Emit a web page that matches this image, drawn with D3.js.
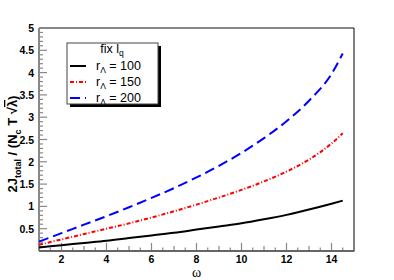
<!DOCTYPE html>
<html>
<head>
<meta charset="utf-8">
<script src="https://cdn.jsdelivr.net/npm/d3@7.9.0/dist/d3.min.js"></script>
<style>
  body { margin: 0; background: #fff; }
  svg { display: block; font-family: "Liberation Sans", Arial, sans-serif; }
</style>
</head>
<body>
<svg id="chart" width="394" height="280"></svg>
<script>
// omega values where the curves were read
const omega = [1, 2, 3, 4, 5, 6, 7, 8, 9, 10, 11, 12, 13, 14, 14.5];
const r100 = [0.08, 0.13, 0.18, 0.23, 0.29, 0.35, 0.41, 0.48, 0.55, 0.62, 0.71, 0.81, 0.93, 1.06, 1.13];
const r150 = [0.14, 0.26, 0.38, 0.50, 0.62, 0.75, 0.89, 1.04, 1.20, 1.37, 1.56, 1.78, 2.05, 2.41, 2.64];
const r200 = [0.21, 0.40, 0.59, 0.78, 0.98, 1.19, 1.41, 1.65, 1.91, 2.20, 2.53, 2.91, 3.37, 3.97, 4.43];
const seriesLabels = ["100", "150", "200"];
const xTicks = [2, 4, 6, 8, 10, 12, 14];
const yTicks = [0.5, 1, 1.5, 2, 2.5, 3, 3.5, 4, 4.5, 5];

const svg = d3.select("#chart");
const frame = { left: 39, right: 354, top: 28, bottom: 251 };

const x = d3.scaleLinear().domain([1, 15]).range([frame.left, frame.right]);
const y = d3.scaleLinear().domain([0, 5]).range([frame.bottom, frame.top]);

const series = [
  { values: r100, label: seriesLabels[0], color: "#000", dash: null },
  { values: r150, label: seriesLabels[1], color: "#f00", dash: "4,2,1,2" },
  { values: r200, label: seriesLabels[2], color: "#00f", dash: "10,5" }
];

// minor / major ticks
const tickColor = "#888";
d3.range(0, 5.001, 0.1).forEach((v) => {
  let major = Math.abs(v * 2 - Math.round(v * 2)) < 1e-6;
  svg.append("line")
    .attr("x1", frame.left).attr("x2", frame.left + (major ? 8 : 4))
    .attr("y1", y(v)).attr("y2", y(v))
    .attr("stroke", tickColor).attr("stroke-width", 1.2);
});
d3.range(1.5, 15, 0.5).forEach((v) => {
  let len = v % 2 === 0 ? 8 : (v % 1 === 0 ? 5 : 3.5);
  svg.append("line")
    .attr("x1", x(v)).attr("x2", x(v))
    .attr("y1", frame.bottom).attr("y2", frame.bottom - len)
    .attr("stroke", tickColor).attr("stroke-width", 1.2);
});

// frame
svg.append("line").attr("x1", frame.left).attr("x2", frame.right).attr("y1", frame.top).attr("y2", frame.top)
  .attr("stroke", "#888").attr("stroke-width", 2);
svg.append("line").attr("x1", frame.left).attr("x2", frame.left).attr("y1", frame.top).attr("y2", frame.bottom)
  .attr("stroke", "#888").attr("stroke-width", 2);
svg.append("line").attr("x1", frame.right).attr("x2", frame.right).attr("y1", frame.top).attr("y2", frame.bottom)
  .attr("stroke", "#000").attr("stroke-width", 1);
svg.append("line").attr("x1", frame.left).attr("x2", frame.right + 0.5).attr("y1", frame.bottom).attr("y2", frame.bottom)
  .attr("stroke", "#666").attr("stroke-width", 2);

// tick labels
svg.selectAll(".xl").data(xTicks).join("text")
  .attr("x", (d) => x(d)).attr("y", frame.bottom + 12)
  .attr("text-anchor", "middle").attr("font-size", 10.5).attr("font-weight", "bold")
  .text((d) => d);
svg.selectAll(".yl").data(yTicks).join("text")
  .attr("x", frame.left - 5).attr("y", (d) => y(d) + 4)
  .attr("text-anchor", "end").attr("font-size", 10.5).attr("font-weight", "bold")
  .text((d) => d);

// curves
const line = d3.line()
  .x((d, i) => x(omega[i]))
  .y((d) => y(d))
  .curve(d3.curveMonotoneX);

series.forEach((s) => {
  svg.append("path")
    .attr("d", line(s.values))
    .attr("fill", "none")
    .attr("stroke", s.color)
    .attr("stroke-width", 2)
    .attr("stroke-dasharray", s.dash);
});

// axis titles
svg.append("text")
  .attr("x", x(8)).attr("y", 277)
  .attr("text-anchor", "middle")
  .attr("font-family", "'Liberation Serif', serif")
  .attr("font-size", 14)
  .text("ω");

const yt = svg.append("text")
  .attr("transform", "translate(17,144) rotate(-90)")
  .attr("text-anchor", "middle")
  .attr("font-size", 13).attr("font-weight", "bold");
yt.append("tspan").text("2J");
yt.append("tspan").attr("font-size", 9).attr("dy", 4).text("total");
yt.append("tspan").attr("dy", -4).text(" / (N");
yt.append("tspan").attr("font-size", 9).attr("dy", 4).text("c");
yt.append("tspan").attr("dy", -4).text(" T √");
yt.append("tspan").attr("text-decoration", "overline").text("λ");
yt.append("tspan").text(")");

// legend
const lg = svg.append("g");
lg.append("rect").attr("x", 70).attr("y", 46).attr("width", 91).attr("height", 61).attr("fill", "#000");
lg.append("rect").attr("x", 67).attr("y", 43).attr("width", 91).attr("height", 61)
  .attr("fill", "#fff").attr("stroke", "#444").attr("stroke-width", 1);
lg.append("text").attr("x", 112).attr("y", 53).attr("text-anchor", "middle")
  .attr("font-size", 12.5).text("fix l")
  .append("tspan").attr("font-size", 8.5).attr("dy", 2.5).text("q");

series.forEach((s, i) => {
  let ly = 66 + i * 16;
  lg.append("line").attr("x1", 70).attr("x2", 86).attr("y1", ly).attr("y2", ly)
    .attr("stroke", s.color).attr("stroke-width", 2).attr("stroke-dasharray", s.dash);
  let t = lg.append("text").attr("x", 96).attr("y", ly + 4).attr("font-size", 12.5).text("r");
  t.append("tspan").attr("font-size", 8.5).attr("dy", 3).text("Λ");
  t.append("tspan").attr("dy", -3).text(" = " + s.label);
});
</script>
</body>
</html>
